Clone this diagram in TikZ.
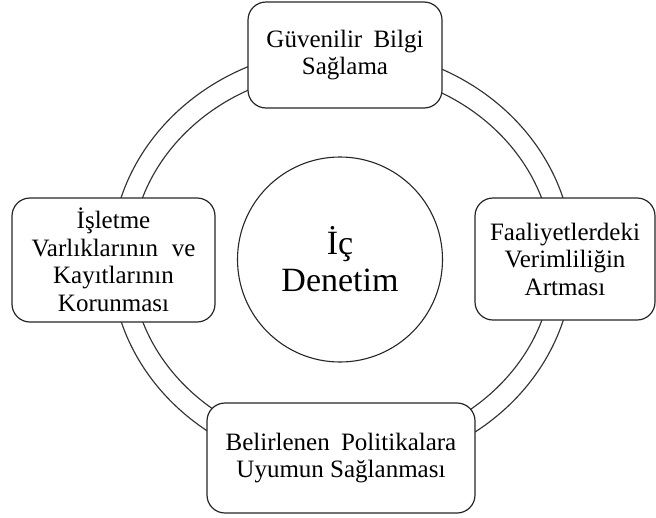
\documentclass[tikz,border=0pt]{standalone}
\usepackage{fontspec}
\setmainfont{Liberation Serif}
\begin{document}
\begin{tikzpicture}[x=1pt,y=-1pt,
  goalbox/.style={draw=black!85, line width=1.2pt, fill=white, rounded corners=18pt,
    align=center, inner sep=0pt, font=\fontsize{25}{27.5}\selectfont},
  core/.style={draw=black!85, line width=1.1pt, fill=white, circle, minimum size=205pt,
    align=center, inner sep=0pt, font=\fontsize{34}{37}\selectfont},
  ring/.style={draw=black!80, line width=1.15pt}]
\useasboundingbox (0,0) rectangle (656,517);

% double ring linking the four goals
\draw[ring] (342,259.5) ellipse [x radius=231pt, y radius=211pt];
\draw[ring] (342,259.5) ellipse [x radius=211pt, y radius=189pt];

% central concept
\node[core] (ic) at (340,259.5) {İç\\Denetim};

% goals around the ring
\node[goalbox, minimum width=194pt, minimum height=106pt] (top) at (345,55)
  {Güvenilir\hspace{0.45em}Bilgi\\Sağlama};
\node[goalbox, minimum width=203pt, minimum height=124pt] (left) at (113.5,260)
  {İşletme\\Varlıklarının\hspace{0.55em}ve\\Kayıtlarının\\Korunması};
\node[goalbox, minimum width=180pt, minimum height=122pt] (right) at (565,259)
  {Faaliyetlerdeki\\Verimliliğin\\Artması};
\node[goalbox, minimum width=268pt, minimum height=110pt] (bottom) at (341,458)
  {Belirlenen\hspace{0.45em}Politikalara\\Uyumun Sağlanması};
\end{tikzpicture}
\end{document}
